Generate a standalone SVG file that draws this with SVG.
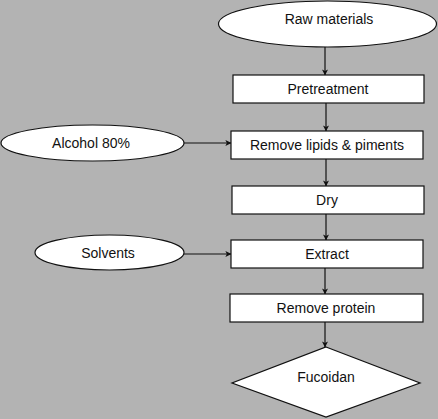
<svg xmlns="http://www.w3.org/2000/svg" width="438" height="419" viewBox="0 0 438 419">
<defs>
<marker id="ah" viewBox="0 0 8 8" refX="7.5" refY="4" markerWidth="6" markerHeight="6" markerUnits="userSpaceOnUse" orient="auto">
<path d="M0,0 L8,4 L0,8 L2,4 Z" fill="#111"/>
</marker>
</defs>
<style>
.shape{fill:#fff;stroke:#111;stroke-width:1.2}
.lbl{font-family:"Liberation Sans",Arial,sans-serif;font-size:14px;fill:#111;text-anchor:middle;dominant-baseline:central}
.conn{stroke:#111;stroke-width:1.2;fill:none;marker-end:url(#ah)}
</style>
<rect width="438" height="419" fill="#b3b3b3"/>
<g id="connectors">
<line class="conn" x1="325" y1="47" x2="325" y2="75"/>
<line class="conn" x1="326" y1="103" x2="326" y2="131"/>
<line class="conn" x1="184" y1="143" x2="231" y2="143"/>
<line class="conn" x1="326" y1="159" x2="326" y2="186"/>
<line class="conn" x1="326" y1="214" x2="326" y2="240"/>
<line class="conn" x1="184" y1="254" x2="231" y2="254"/>
<line class="conn" x1="325" y1="268" x2="325" y2="294"/>
<line class="conn" x1="325" y1="322" x2="325" y2="347"/>
</g>
<g id="raw">
<ellipse class="shape" cx="327.5" cy="24" rx="109" ry="23"/>
<text class="lbl" x="329" y="19">Raw materials</text>
</g>
<g id="pretreatment">
<rect class="shape" x="233" y="75" width="191" height="28"/>
<text class="lbl" x="328" y="89">Pretreatment</text>
</g>
<g id="alcohol">
<ellipse class="shape" cx="92.5" cy="143" rx="91.5" ry="18"/>
<text class="lbl" x="91" y="143">Alcohol 80%</text>
</g>
<g id="lipids">
<rect class="shape" x="231" y="131" width="192" height="28"/>
<text class="lbl" x="327" y="145">Remove lipids &amp; piments</text>
</g>
<g id="dry">
<rect class="shape" x="232" y="186" width="192" height="28"/>
<text class="lbl" x="327" y="200">Dry</text>
</g>
<g id="solvents">
<ellipse class="shape" cx="109.5" cy="252.5" rx="74.5" ry="17.5"/>
<text class="lbl" x="108" y="253">Solvents</text>
</g>
<g id="extract">
<rect class="shape" x="231" y="240" width="192" height="28"/>
<text class="lbl" x="327" y="254">Extract</text>
</g>
<g id="protein">
<rect class="shape" x="230" y="294" width="193" height="28"/>
<text class="lbl" x="326" y="308">Remove protein</text>
</g>
<g id="fucoidan">
<polygon class="shape" points="326,347 420,383 326,417 232,383"/>
<text class="lbl" x="326" y="377">Fucoidan</text>
</g>
</svg>
